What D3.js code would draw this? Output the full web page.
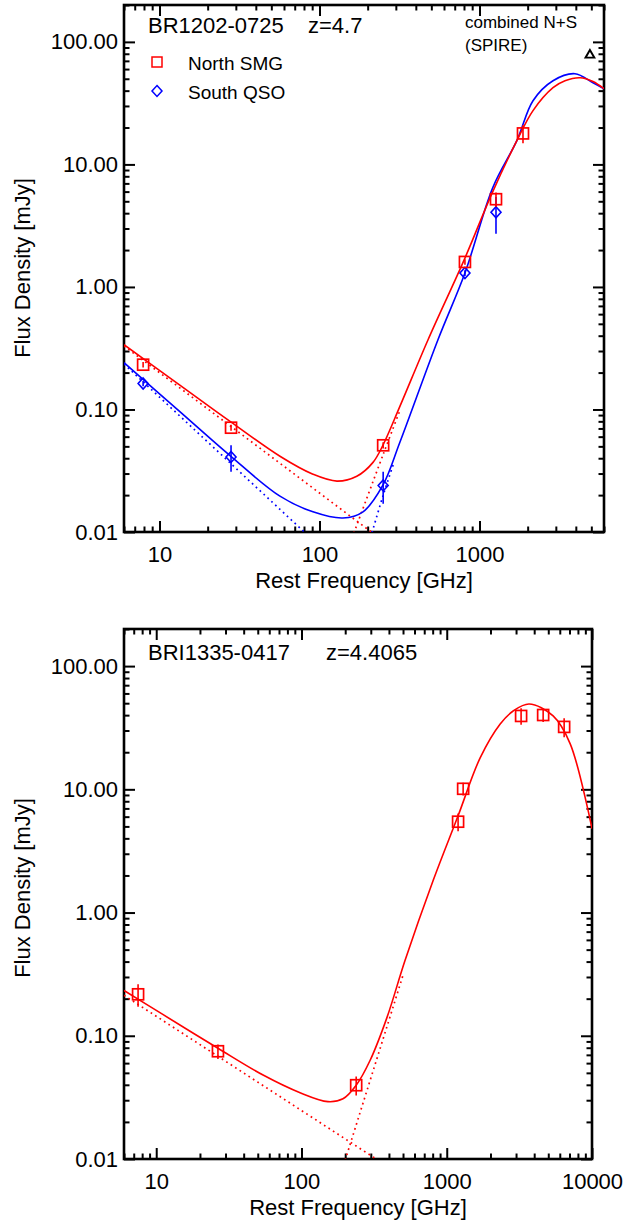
<!DOCTYPE html>
<html><head><meta charset="utf-8">
<script src="https://cdn.jsdelivr.net/npm/d3@7"></script>
<style>
body{margin:0;background:#fff;}
svg{display:block;}
text{font-family:"Liberation Sans",Arial,Helvetica,sans-serif;fill:#000;}
</style></head><body>
<svg id="chart" width="626" height="1222"></svg>
<script>
// ---------------- DATA ----------------
// Top panel: BR1202-0725 (z=4.7)
const topNorthFreq = [7.9, 28, 250, 811, 1268, 1870];
const topNorthFlux = [0.232, 0.071, 0.051, 1.6, 5.2, 17.9];
const topNorthErr  = [0.012, 0.004, 0.003, 0.08, 0.7, 3.0];
const topSouthFreq = [7.9, 28, 250, 811, 1268];
const topSouthFlux = [0.163, 0.041, 0.024, 1.3, 4.07];
const topSouthErr  = [0.008, 0.010, 0.007, 0.07, 1.35];
const topSpireFreq = [4900];
const topSpireFlux = [78];

// fitted curves
const topRedFitFreq = [6, 13.4, 27.6, 56.6, 91, 128.6, 171, 216, 249, 318, 477, 811, 1197, 1715, 2160, 2880, 3423, 4250, 5120, 6000];
const topRedFitFlux = [0.338, 0.158, 0.080, 0.0415, 0.0296, 0.026, 0.0285, 0.037, 0.051, 0.106, 0.371, 1.72, 5.81, 15.7, 27.5, 42.3, 48.2, 51, 47.5, 41.5];
const topBlueFitFreq = [6, 13.4, 27.6, 56.6, 91, 140, 187, 249, 318, 550, 811, 1213, 1715, 2160, 2880, 3950, 5120, 6000];
const topBlueFitFlux = [0.241, 0.096, 0.042, 0.0196, 0.0146, 0.0130, 0.0146, 0.0241, 0.054, 0.371, 1.30, 6.5, 15.7, 33.1, 48.2, 55, 46.4, 41.5];
const topRedSyncFreq = [6, 213];
const topRedSyncFlux = [0.33, 0.0099];
const topBlueSyncFreq = [6, 81];
const topBlueSyncFlux = [0.235, 0.0099];
const topRedDustFreq = [164, 250, 318];
const topRedDustFlux = [0.0098, 0.043, 0.098];
const topBlueDustFreq = [213, 249, 290];
const topBlueDustFlux = [0.0099, 0.0196, 0.036];

// Bottom panel: BRI1335-0417 (z=4.4065)
const botFreq = [7.5, 26.6, 238, 1197, 1297, 3250, 4610, 6430];
const botFlux = [0.217, 0.0749, 0.0397, 5.46, 10.1, 39.4, 40.1, 32.1];
const botErr  = [0.045, 0.010, 0.007, 0.9, 1.2, 6, 5, 5.6];
const botFitFreq = [6, 11.1, 26.6, 54.4, 97.8, 152, 193, 238, 297, 388, 516, 806, 1197, 1698, 2333, 2866, 3690, 5400, 7080, 10000];
const botFitFlux = [0.233, 0.149, 0.0792, 0.048, 0.0345, 0.0292, 0.0308, 0.0397, 0.0633, 0.141, 0.408, 1.82, 6.1, 18.0, 33.9, 43.2, 49.3, 39.4, 23.4, 4.79];
const botSyncFreq = [6, 331];
const botSyncFlux = [0.213, 0.0099];
const botDustFreq = [200, 500];
const botDustFlux = [0.0098, 0.31];

// axes
const yDomain = [0.01, 200];
const yTickValues = [0.01, 0.1, 1, 10, 100];
const yTickLabels = ["0.01", "0.10", "1.00", "10.00", "100.00"];
const topXDomain = [6, 6000];
const topXTickValues = [10, 100, 1000];
const topXTickLabels = ["10", "100", "1000"];
const botXDomain = [6, 10000];
const botXTickValues = [10, 100, 1000, 10000];
const botXTickLabels = ["10", "100", "1000", "10000"];

const RED = "#ff0000", BLUE = "#0000ff";
const zip = (a, b) => a.map((v, i) => [v, b[i]]);

// ---------------- DRAW ----------------
const svg = d3.select("#chart");
const FONT = 22;

function panel(cfg) {
  const g = svg.append("g");
  const x = d3.scaleLog().domain(cfg.xDomain).range([cfg.left, cfg.right]);
  const y = d3.scaleLog().domain(yDomain).range([cfg.bottom, cfg.top]);
  const clipId = "clip" + cfg.id;
  svg.append("clipPath").attr("id", clipId).append("rect")
    .attr("x", cfg.left).attr("y", cfg.top)
    .attr("width", cfg.right - cfg.left).attr("height", cfg.bottom - cfg.top);

  const isMajor = v => Math.abs(Math.log10(v) - Math.round(Math.log10(v))) < 1e-9;
  const xMinor = x.ticks().filter(v => !isMajor(v));
  const yMinor = y.ticks().filter(v => !isMajor(v));
  const MAJ = 11, MIN = 5.5;

  function axis(gen, tr, vals, len, labels) {
    const a = gen.tickValues(vals).tickSize(-len).tickSizeOuter(0);
    if (labels) a.tickFormat((d, i) => labels[i]); else a.tickFormat("");
    const ga = g.append("g").attr("transform", tr).call(a);
    ga.select(".domain").remove();
    ga.selectAll(".tick line").attr("stroke", "#000").attr("stroke-width", 2);
    ga.selectAll(".tick text").attr("font-size", FONT)
      .style("font-family", '"Liberation Sans",Arial,sans-serif')
      .attr("fill", "#000");
    return ga;
  }
  // bottom
  axis(d3.axisBottom(x).tickPadding(14), `translate(0,${cfg.bottom})`, cfg.xTicks, MAJ, cfg.xLabels);
  axis(d3.axisBottom(x), `translate(0,${cfg.bottom})`, xMinor, MIN, null);
  // top
  axis(d3.axisTop(x), `translate(0,${cfg.top})`, cfg.xTicks, MAJ, null);
  axis(d3.axisTop(x), `translate(0,${cfg.top})`, xMinor, MIN, null);
  // left
  axis(d3.axisLeft(y).tickPadding(6), `translate(${cfg.left},0)`, yTickValues, MAJ, yTickLabels);
  axis(d3.axisLeft(y), `translate(${cfg.left},0)`, yMinor, MIN, null);
  // right
  axis(d3.axisRight(y), `translate(${cfg.right},0)`, yTickValues, MAJ, null);
  axis(d3.axisRight(y), `translate(${cfg.right},0)`, yMinor, MIN, null);

  g.append("rect").attr("x", cfg.left).attr("y", cfg.top)
    .attr("width", cfg.right - cfg.left).attr("height", cfg.bottom - cfg.top)
    .attr("fill", "none").attr("stroke", "#000").attr("stroke-width", 2.6);

  // axis titles
  g.append("text").attr("x", (cfg.left + cfg.right) / 2).attr("y", cfg.bottom + 56)
    .attr("text-anchor", "middle").attr("font-size", FONT).text("Rest Frequency [GHz]");
  g.append("text").attr("transform", `translate(30,${cfg.yTitleY}) rotate(-90)`)
    .attr("text-anchor", "middle").attr("font-size", FONT).text("Flux Density [mJy]");

  const plot = g.append("g").attr("clip-path", `url(#${clipId})`);
  const line = d3.line().x(d => x(d[0])).y(d => y(d[1])).curve(d3.curveCatmullRom.alpha(0.5));
  const straight = d3.line().x(d => x(d[0])).y(d => y(d[1]));

  return { g, plot, x, y, line, straight };
}

function curve(P, pts, color, dotted, smooth) {
  P.plot.append("path").attr("d", (smooth ? P.line : P.straight)(pts))
    .attr("fill", "none").attr("stroke", color).attr("stroke-width", dotted ? 1.7 : 1.6)
    .attr("stroke-dasharray", dotted ? "1.7,3.6" : null);
}
function errbars(P, fr, fl, er, color) {
  P.plot.selectAll(null).data(fr.map((f, i) => [f, fl[i], er[i]])).enter().append("line")
    .attr("x1", d => P.x(d[0])).attr("x2", d => P.x(d[0]))
    .attr("y1", d => P.y(d[1] + d[2])).attr("y2", d => P.y(Math.max(d[1] - d[2], 1e-4)))
    .attr("stroke", color).attr("stroke-width", 1.6);
}
function squares(P, fr, fl, color) {
  P.plot.selectAll(null).data(zip(fr, fl)).enter().append("rect")
    .attr("x", d => P.x(d[0]) - 5.5).attr("y", d => P.y(d[1]) - 5.5)
    .attr("width", 11).attr("height", 11)
    .attr("fill", "none").attr("stroke", color).attr("stroke-width", 1.7);
}
function diamonds(P, fr, fl, color) {
  P.plot.selectAll(null).data(zip(fr, fl)).enter().append("path")
    .attr("d", d => { const cx = P.x(d[0]), cy = P.y(d[1]);
      return `M${cx},${cy - 5.5}L${cx + 5},${cy}L${cx},${cy + 5.5}L${cx - 5},${cy}Z`; })
    .attr("fill", "none").attr("stroke", color).attr("stroke-width", 1.6);
}

// ---- top panel
const T = panel({ id: 1, xDomain: topXDomain, left: 124, right: 604, top: 5, bottom: 532,
  xTicks: topXTickValues, xLabels: topXTickLabels, yTitleY: 268 });
curve(T, zip(topRedSyncFreq, topRedSyncFlux), RED, true, false);
curve(T, zip(topBlueSyncFreq, topBlueSyncFlux), BLUE, true, false);
curve(T, zip(topRedDustFreq, topRedDustFlux), RED, true, true);
curve(T, zip(topBlueDustFreq, topBlueDustFlux), BLUE, true, true);
curve(T, zip(topBlueFitFreq, topBlueFitFlux), BLUE, false, true);
curve(T, zip(topRedFitFreq, topRedFitFlux), RED, false, true);
errbars(T, topSouthFreq, topSouthFlux, topSouthErr, BLUE);
diamonds(T, topSouthFreq, topSouthFlux, BLUE);
errbars(T, topNorthFreq, topNorthFlux, topNorthErr, RED);
squares(T, topNorthFreq, topNorthFlux, RED);
T.plot.selectAll(null).data(zip(topSpireFreq, topSpireFlux)).enter().append("path")
  .attr("transform", d => `translate(${T.x(d[0])},${T.y(d[1])})`)
  .attr("d", d3.symbol(d3.symbolTriangle, 34)())
  .attr("fill", "none").attr("stroke", "#000").attr("stroke-width", 1.9);

T.g.append("text").attr("x", 148).attr("y", 33).attr("font-size", FONT).text("BR1202-0725");
T.g.append("text").attr("x", 308).attr("y", 33).attr("font-size", FONT).text("z=4.7");
T.g.append("text").attr("x", 465).attr("y", 28).attr("font-size", 17).text("combined N+S");
T.g.append("text").attr("x", 465).attr("y", 51).attr("font-size", 17).text("(SPIRE)");
// legend
T.g.append("rect").attr("x", 152).attr("y", 57).attr("width", 10).attr("height", 10)
  .attr("fill", "none").attr("stroke", RED).attr("stroke-width", 1.5);
T.g.append("text").attr("x", 188).attr("y", 70).attr("font-size", 19).text("North SMG");
T.g.append("path").attr("d", "M157,85.5L162,91L157,96.5L152,91Z")
  .attr("fill", "none").attr("stroke", BLUE).attr("stroke-width", 1.5);
T.g.append("text").attr("x", 188).attr("y", 99).attr("font-size", 19).text("South QSO");

// ---- bottom panel
const B = panel({ id: 2, xDomain: botXDomain, left: 124, right: 592, top: 629, bottom: 1159,
  xTicks: botXTickValues, xLabels: botXTickLabels, yTitleY: 888 });
curve(B, zip(botSyncFreq, botSyncFlux), RED, true, false);
curve(B, zip(botDustFreq, botDustFlux), RED, true, false);
curve(B, zip(botFitFreq, botFitFlux), RED, false, true);
errbars(B, botFreq, botFlux, botErr, RED);
squares(B, botFreq, botFlux, RED);
B.g.append("text").attr("x", 148).attr("y", 660).attr("font-size", FONT).text("BRI1335-0417");
B.g.append("text").attr("x", 326).attr("y", 660).attr("font-size", FONT).text("z=4.4065");
</script>
</body></html>
